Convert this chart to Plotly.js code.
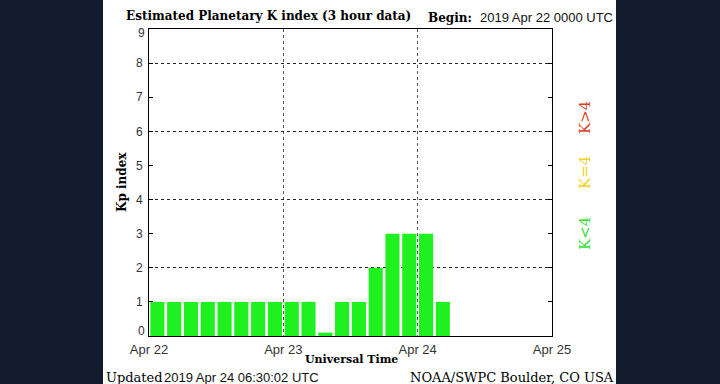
<!DOCTYPE html>
<html><head><meta charset="utf-8">
<script src="https://cdn.plot.ly/plotly-3.0.1.min.js"></script>
<style>html,body{margin:0;padding:0;background:#131c2c;}#chart{width:720px;height:384px;}</style>
</head><body><div id="chart"></div>
<script>
// Data
const periodStarts = [
  "2019-04-22 00:00","2019-04-22 03:00","2019-04-22 06:00","2019-04-22 09:00",
  "2019-04-22 12:00","2019-04-22 15:00","2019-04-22 18:00","2019-04-22 21:00",
  "2019-04-23 00:00","2019-04-23 03:00","2019-04-23 06:00","2019-04-23 09:00",
  "2019-04-23 12:00","2019-04-23 15:00","2019-04-23 18:00","2019-04-23 21:00",
  "2019-04-24 00:00","2019-04-24 03:00"
];
const kpValues = [1,1,1,1,1,1,1,1, 1,1,0.1,1,1,2,3,3, 3,1];
const dayTicks = ["2019-04-22","2019-04-23","2019-04-24","2019-04-25"];
const dayLabels = ["Apr 22","Apr 23","Apr 24","Apr 25"];
const kpTicks = [0,1,2,3,4,5,6,7,8,9];
const kpGrid = [2,4,6,8];

const L=149, R=552, T=29, B=336, W=720, H=384;
const px = x => (x-L)/(R-L);
const py = y => (B-y)/(B-T);
const H3 = 3*3600*1000;
const serif = "DejaVu Serif";
const sans = "Liberation Sans";
const tickFont = {family:sans, size:12, color:'#333'};

// end labels (0 and 9) are nudged inward as in the reference, so they're drawn as annotations
const kpMin = kpTicks[0], kpMax = kpTicks[kpTicks.length-1];
const kpTickText = kpTicks.map(v => (v===kpMin || v===kpMax) ? '' : String(v));

const traces = [
  {type:'bar', x:periodStarts, y:kpValues, width:H3*0.84, offset:H3*0.08,
   marker:{color:'#1ff01f', line:{width:0}}, hoverinfo:'skip', showlegend:false},
  {type:'scatter', x:[dayTicks[0]], y:[0], yaxis:'y2', mode:'markers',
   marker:{opacity:0}, hoverinfo:'skip', showlegend:false}
];

const layout = {
  width:W, height:H,
  paper_bgcolor:'#131c2c', plot_bgcolor:'#ffffff',
  margin:{l:L, r:W-R, t:T, b:H-B, pad:0},
  showlegend:false,
  xaxis:{type:'date', range:[dayTicks[0], dayTicks[3]], tickvals:dayTicks, ticktext:dayLabels,
    showgrid:true, griddash:'dot', gridcolor:'#555', gridwidth:1, layer:'above traces',
    showline:true, linecolor:'#000', linewidth:1, mirror:true, ticks:'', zeroline:false,
    tickfont:{family:sans, size:13, color:'#333'}, ticklabelstandoff:1, fixedrange:true},
  yaxis:{range:[kpMin,kpMax], tickvals:kpTicks, ticktext:kpTickText, showgrid:false, zeroline:false,
    showline:true, linecolor:'#000', linewidth:1, mirror:'ticks', ticks:'inside', ticklen:4, tickcolor:'#000',
    tickfont:tickFont, ticklabelstandoff:3, fixedrange:true},
  yaxis2:{overlaying:'y', range:[kpMin,kpMax], tickvals:kpGrid, showgrid:true, griddash:'dot', gridcolor:'#222',
    gridwidth:1, showticklabels:false, ticks:'', zeroline:false, showline:false, fixedrange:true},
  shapes:[
    {type:'rect', xref:'paper', yref:'paper', x0:px(103), x1:px(616), y0:py(H), y1:py(0),
     fillcolor:'#ffffff', line:{width:0}, layer:'below'}
  ],
  annotations:[
    {text:String(kpMin), xref:'paper', yref:'y', x:px(147), y:kpMin, yshift:5, xanchor:'right', yanchor:'middle',
     showarrow:false, font:tickFont},
    {text:String(kpMax), xref:'paper', yref:'y', x:px(147), y:kpMax, yshift:-4, xanchor:'right', yanchor:'middle',
     showarrow:false, font:tickFont},
    {text:'<b>Estimated Planetary K index (3 hour data)</b>', xref:'paper', yref:'paper',
     x:px(124), y:py(16), xanchor:'left', yanchor:'middle', showarrow:false,
     font:{family:serif, size:12, color:'#000'}},
    {text:'<b>Begin:</b>', xref:'paper', yref:'paper', x:px(426), y:py(18), xanchor:'left', yanchor:'middle',
     showarrow:false, font:{family:serif, size:12, color:'#000'}},
    {text:'2019 Apr 22 0000 UTC', xref:'paper', yref:'paper', x:px(478), y:py(18), xanchor:'left', yanchor:'middle',
     showarrow:false, font:{family:sans, size:13, color:'#111'}},
    {text:'<b>Kp index</b>', xref:'paper', yref:'paper', x:px(122), y:py(182), xanchor:'center', yanchor:'middle',
     textangle:-90, showarrow:false, font:{family:serif, size:12, color:'#000'}},
    {text:'<b>Universal Time</b>', xref:'paper', yref:'paper', x:px(351), y:py(359), xanchor:'center', yanchor:'middle',
     showarrow:false, font:{family:serif, size:11, color:'#000'}},
    {text:'Updated', xref:'paper', yref:'paper', x:px(104), y:py(377), xanchor:'left', yanchor:'middle',
     showarrow:false, font:{family:serif, size:13, color:'#000'}},
    {text:'2019 Apr 24 06:30:02 UTC', xref:'paper', yref:'paper', x:px(162), y:py(377), xanchor:'left', yanchor:'middle',
     showarrow:false, font:{family:sans, size:13, color:'#111'}},
    {text:'NOAA/SWPC Boulder, CO USA', xref:'paper', yref:'paper', x:px(616), y:py(377), xanchor:'right', yanchor:'middle',
     showarrow:false, font:{family:serif, size:13, color:'#000'}},
    {text:'K>4', xref:'paper', yref:'paper', x:px(585), y:py(118), xanchor:'center', yanchor:'middle',
     textangle:-90, showarrow:false, font:{family:serif, size:15, color:'#d8401c'}},
    {text:'K=4', xref:'paper', yref:'paper', x:px(585), y:py(173), xanchor:'center', yanchor:'middle',
     textangle:-90, showarrow:false, font:{family:serif, size:15, color:'#f2d21c'}},
    {text:'K<4', xref:'paper', yref:'paper', x:px(585), y:py(234), xanchor:'center', yanchor:'middle',
     textangle:-90, showarrow:false, font:{family:serif, size:15, color:'#33e033'}}
  ]
};
Plotly.newPlot('chart', traces, layout, {staticPlot:true, displayModeBar:false});
</script></body></html>
